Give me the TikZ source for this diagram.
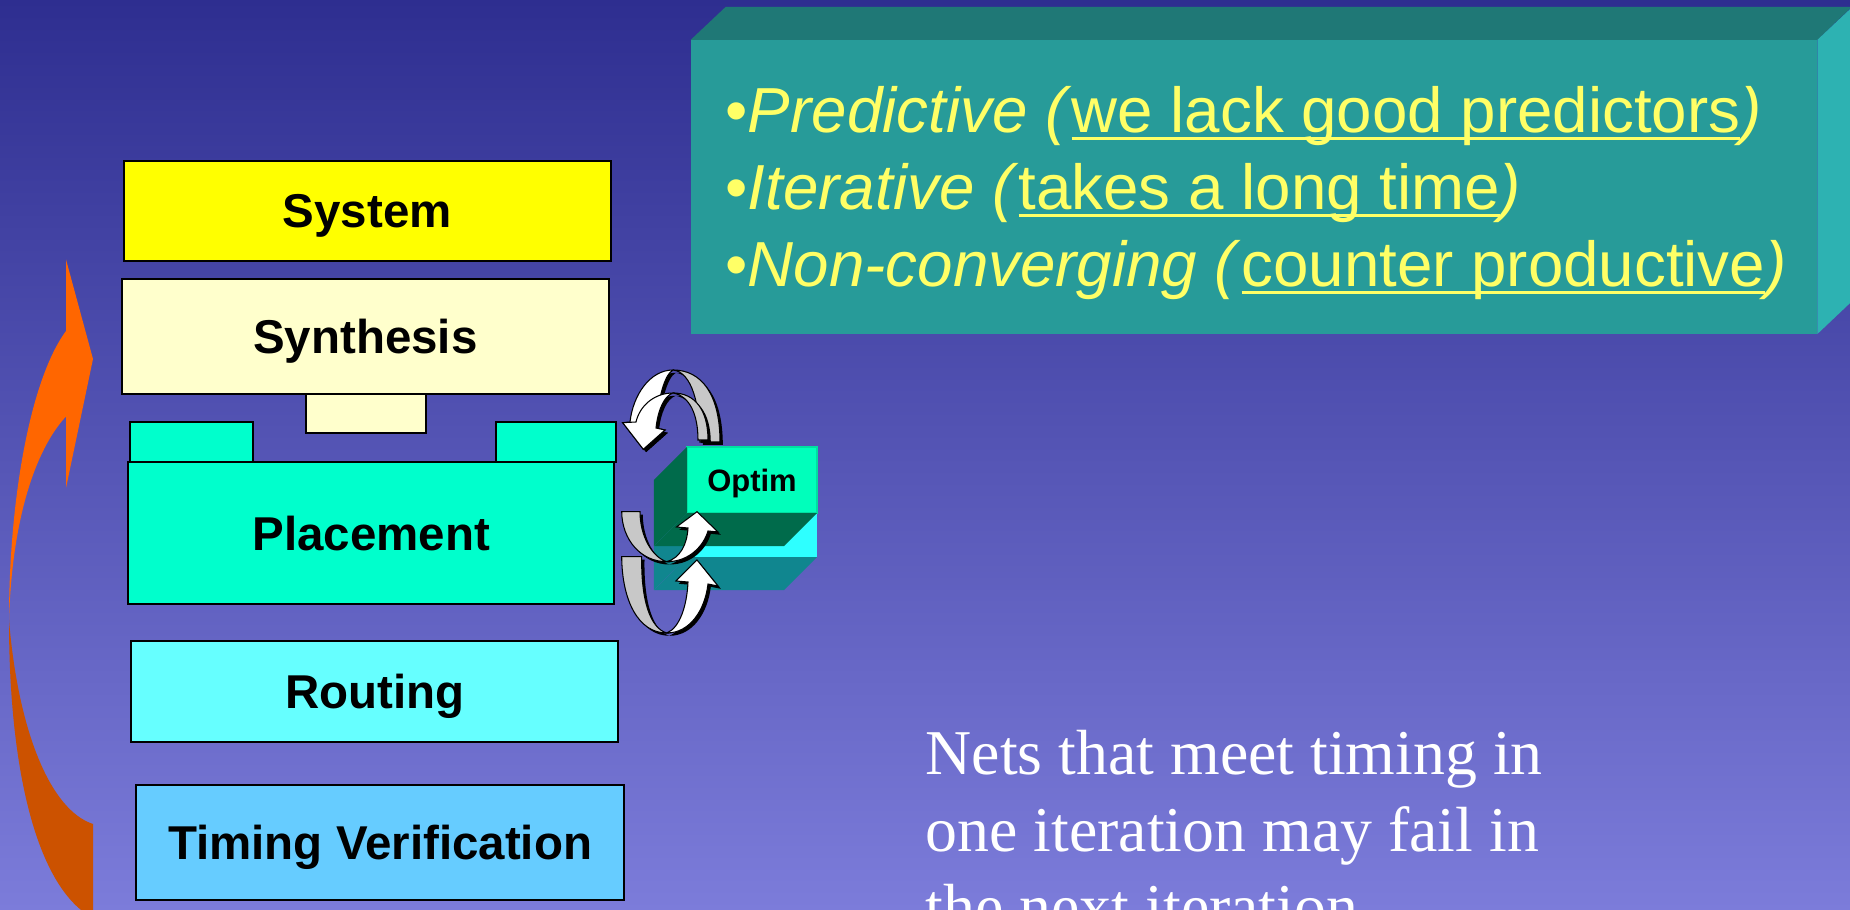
\documentclass[tikz,border=0pt]{standalone}
\usepackage{fontspec}
\setmainfont{Liberation Sans}
\newfontfamily\seriffont{Liberation Serif}
\usetikzlibrary{positioning}
\definecolor{BgTop}{RGB}{46,46,144}
\definecolor{BgBottom}{RGB}{124,124,218}
\definecolor{Flame}{HTML}{FF6600}
\definecolor{Ember}{HTML}{CC5200}
\definecolor{SystemFill}{HTML}{FFFF00}
\definecolor{SynthFill}{HTML}{FFFFCC}
\definecolor{PlaceFill}{HTML}{00FFCC}
\definecolor{RouteFill}{HTML}{66FFFF}
\definecolor{TimingFill}{HTML}{66CCFF}
\definecolor{OptimFront}{HTML}{00FFBB}
\definecolor{OptimEdge}{HTML}{00E0A0}
\definecolor{OptimSide}{HTML}{006B4B}
\definecolor{BaseFront}{HTML}{2EFFFF}
\definecolor{BaseSide}{HTML}{10868F}
\definecolor{PanelFront}{HTML}{279B99}
\definecolor{PanelTop}{HTML}{1F7876}
\definecolor{PanelSide}{HTML}{2DB2B2}
\definecolor{Note}{HTML}{FFFF66}
\definecolor{Band}{HTML}{C8C8C8}
\newcommand\undl[1]{\setbox0\hbox{#1}\rlap{\rule[-1.9pt]{\wd0}{0.75pt}}\box0}
\tikzset{
  stage/.style={
    draw=black,line width=0.55pt,inner sep=0pt,outer sep=0pt,
    minimum width=4.87cm,text height=9.67pt,text depth=0pt,
    font=\fontsize{13.5pt}{16pt}\selectfont\bfseries
  },
  tab/.style={draw=black,line width=0.55pt,inner sep=0pt,outer sep=0pt,minimum height=0.4cm},
  backband/.style={
    fill=Band,draw=black,line width=0.3pt,
    preaction={fill=black,transform canvas={xshift=0.8pt,yshift=-0.8pt}}
  },
  frontband/.style={backband,fill=white},
  issue/.style={anchor=base west,inner sep=0pt,text=Note,font=\fontsize{18.1pt}{22pt}\selectfont},
  netline/.style={anchor=base west,inner sep=0pt,text=white,font=\seriffont\fontsize{18.15pt}{22pt}\selectfont}
}
\begin{document}
\begin{tikzpicture}[x=0.01cm,y=-0.01cm]
  \useasboundingbox (0,0) rectangle (1850,910);
  \clip (0,0) rectangle (1850,910);
  \shade[top color=BgTop,bottom color=BgBottom] (0,0) rectangle (1850,910);

  \fill[Ember] (9,620) .. controls (9,780) and (40,890) .. (93,918) -- (93,824)
    .. controls (50,810) and (18,730) .. (9,620) -- cycle;
  \fill[Flame] (66,331) .. controls (30,380) and (9,500) .. (9,620)
    .. controls (12,520) and (35,450) .. (66,416.5) -- (66,488) -- (93,359) -- (66,259.5) -- cycle;

  \node[stage,fill=SystemFill,minimum height=1cm] (system) at (367.3,211) {System};
  \node[stage,fill=SynthFill,minimum height=1.15cm,below=0.18cm of system,xshift=-0.02cm] (synth) {Synthesis};
  \node[tab,fill=SynthFill,minimum width=1.2cm,minimum height=0.39cm,below=0pt of synth,xshift=0.01cm] (synthtab) {};
  \node[stage,fill=PlaceFill,minimum width=4.86cm,minimum height=1.42cm,below=0.68cm of synth,xshift=0.06cm] (place) {Placement};
  \node[tab,fill=PlaceFill,minimum width=1.23cm,above right=0pt and 0.02cm of place.north west] (tabL) {};
  \node[tab,fill=PlaceFill,minimum width=1.2cm,above left=0pt and -0.014cm of place.north east] (tabR) {};
  \node[stage,fill=RouteFill,minimum width=4.865cm,minimum height=1.01cm,below=0.37cm of place,xshift=0.034cm] (route) {Routing};
  \node[stage,fill=TimingFill,minimum height=1.15cm,below=0.43cm of route,xshift=0.054cm] (timing) {Timing Verification};

  \node[fill=BaseFront,minimum width=1.3cm,minimum height=0.44cm,inner sep=0pt,outer sep=0pt] (optimbase) at (752,535) {};
  \fill[BaseSide] (optimbase.north west) -- ++(-33,33) -- ++(0,44) -- (optimbase.south west) -- cycle;
  \fill[BaseSide] (optimbase.south west) -- (optimbase.south east) -- ++(-33,33) -- ++(-130,0) -- cycle;
  \node[draw=OptimEdge,line width=0.6pt,fill=OptimFront,minimum width=1.3cm,minimum height=0.66cm,
    inner sep=0pt,outer sep=0pt,text height=6.3pt,text depth=0pt,
    font=\fontsize{8.8pt}{10pt}\selectfont\bfseries] (optim) at (752,480) {Optim};
  \fill[OptimSide] (optim.north west) -- ++(-33,33) -- ++(0,66) -- (optim.south west) -- cycle;
  \fill[OptimSide] (optim.south west) -- (optim.south east) -- ++(-33,33) -- ++(-130,0) -- cycle;

  \draw[backband] (673,370) .. controls (702,370) and (720,395) .. (720,442) -- (700,442)
    .. controls (700,405) and (692,372) .. (673,370) -- cycle;
  \draw[frontband] (673,370) .. controls (650,370) and (633,395) .. (630,422) -- (622.7,422.7)
    -- (643.3,449.3) -- (665,430) -- (656,428) .. controls (658,400) and (664,375) .. (673,370) -- cycle;
  \draw[backband] (673,393) .. controls (695,393) and (708,410) .. (708,440) -- (698,440)
    .. controls (698,415) and (690,396) .. (673,393) -- cycle;
  \draw[frontband] (673,393) .. controls (655,393) and (640,405) .. (636,422) -- (622.7,422.7)
    -- (643.3,449.3) -- (665,430) -- (656,428) .. controls (658,410) and (664,396) .. (673,393) -- cycle;

  \draw[backband] (621.7,511.7) .. controls (622,540) and (641,561.7) .. (666.7,561.7)
    .. controls (652,557) and (640,536) .. (640,511.7) -- cycle;
  \draw[frontband] (666.7,561.7) .. controls (690,561.7) and (704,545) .. (708,531) -- (718,532)
    -- (697,511.7) -- (676.5,527) -- (688,528) .. controls (687,545) and (680,558) .. (666.7,561.7) -- cycle;
  \draw[backband] (621.7,556.7) .. controls (622,600) and (638,633) .. (666.7,633)
    .. controls (650,628) and (641,600) .. (641.7,556.7) -- cycle;
  \draw[frontband] (666.7,633) .. controls (690,633) and (705,610) .. (708,584) -- (718,586)
    -- (697,560) -- (676,581) -- (688,582) .. controls (687,605) and (680,628) .. (666.7,633) -- cycle;

  \node[fill=PanelFront,minimum width=11.26cm,minimum height=2.94cm,inner sep=0pt,outer sep=0pt] (panel) at (1254,187) {};
  \fill[PanelTop] (panel.north west) -- ++(35,-33) -- ++(1126,0) -- (panel.north east) -- cycle;
  \fill[PanelSide] (panel.north east) -- ++(35,-33) -- ++(0,294) -- (panel.south east) -- cycle;
  \node[issue] (predictive) at (725,133) {\textbullet\textit{Predictive (}\undl{we lack good predictors}\textit{)}};
  \node[issue] (iterative) at (725,210) {\textbullet\textit{Iterative (}\undl{takes a long time}\textit{)}};
  \node[issue] (nonconv) at (725,287) {\textbullet\textit{Non-converging (}\undl{counter productive}\textit{)}};

  \node[netline] (nets1) at (925,775) {Nets that meet timing in};
  \node[netline] (nets2) at (925,852) {one iteration may fail in};
  \node[netline] (nets3) at (925,929) {the next iteration};
\end{tikzpicture}
\end{document}
